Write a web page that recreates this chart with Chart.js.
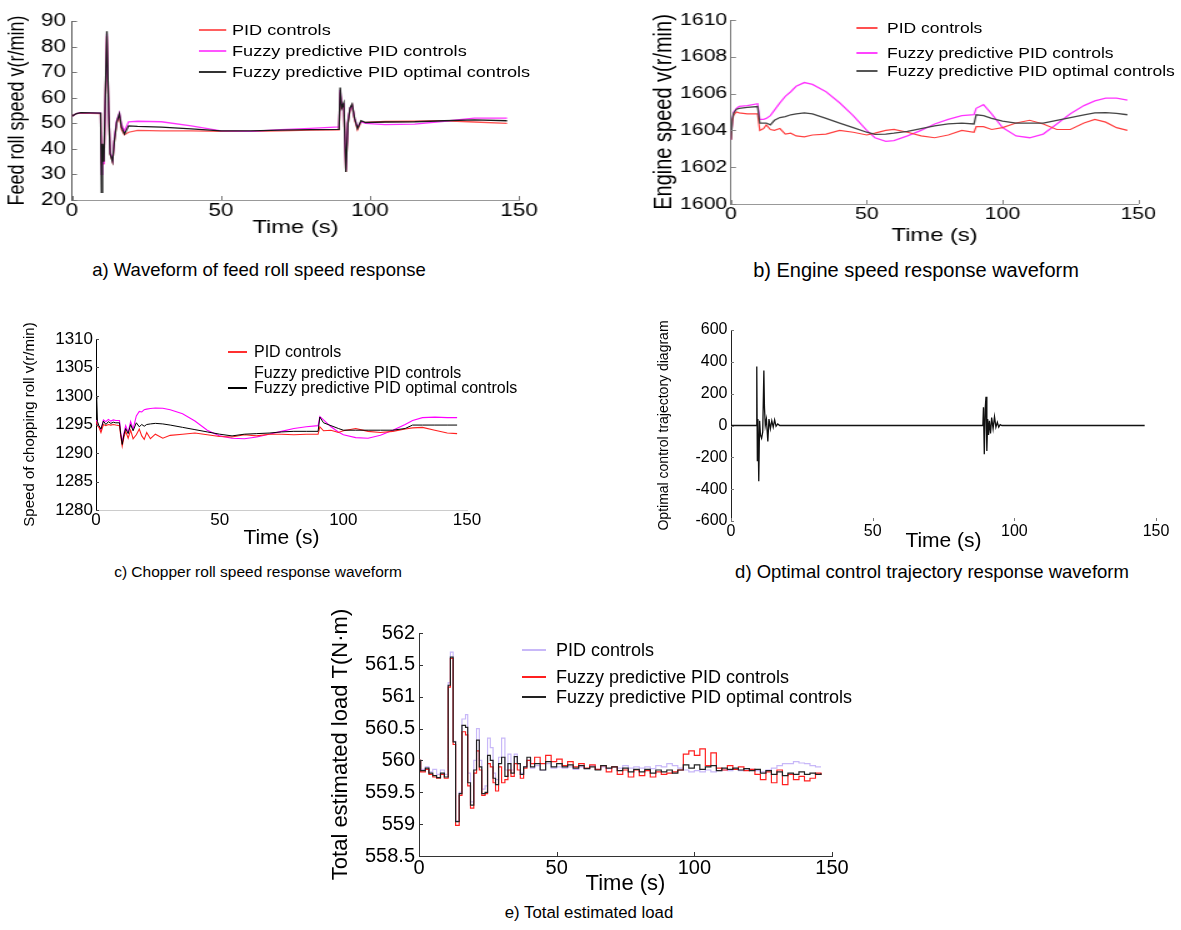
<!DOCTYPE html>
<html>
<head>
<meta charset="utf-8">
<script src="https://cdn.jsdelivr.net/npm/chart.js@4.4.1/dist/chart.umd.min.js"></script>
<style>
  body { margin:0; background:#fff; width:1181px; height:930px; position:relative; overflow:hidden;
         font-family: Arial, "Liberation Sans", sans-serif; }
  .panel { position:absolute; transform-origin:0 0; }
  .panel canvas { position:absolute; left:0; top:0; }
  .lg-line { position:absolute; height:2px; transform:translateY(-1px); }
  .lg-text { position:absolute; white-space:nowrap; color:#000; transform:translateY(-50%); line-height:1; }
  .caption { position:absolute; color:#000; white-space:nowrap; transform:translate(-50%,-50%); }
</style>
</head>
<body>
<div class="caption" style="left:259px;top:270px;font-size:18.5px">a) Waveform of feed roll speed response</div>
<div class="caption" style="left:916px;top:270px;font-size:20px">b) Engine speed response waveform</div>
<div class="caption" style="left:258px;top:572px;font-size:15.5px">c) Chopper roll speed response waveform</div>
<div class="caption" style="left:932px;top:572px;font-size:18.5px">d) Optimal control trajectory response waveform</div>
<div class="caption" style="left:589px;top:913px;font-size:16.8px">e) Total estimated load</div>
<script>
// ---- data ----
const seriesNames = ['PID controls', 'Fuzzy predictive PID controls', 'Fuzzy predictive PID optimal controls'];
const timeTicks = [0, 50, 100, 150];

// a) feed roll speed
const feedTicks = [20, 30, 40, 50, 60, 70, 80, 90];
const timeA = [0, 1.5, 3, 9.6, 9.9, 10.2, 10.7, 11.2, 11.7, 12.3, 12.8, 13.6, 14.2, 15.0, 15.9, 16.6, 17.6, 19, 22, 30,
  40, 50, 60, 70, 80, 89.6, 90.0, 90.5, 91.2, 91.9, 92.6, 93.3, 94.0, 94.8, 95.8, 97, 98.5, 105, 115, 125, 135, 146];
const feedPID = [52.8, 53.8, 54.0, 53.8, 34, 41, 34, 60, 84, 54, 38, 35, 43, 50, 53, 47.5, 45.5, 46.5, 47.2, 47.0,
  47.0, 46.8, 46.8, 47.0, 47.3, 47.4, 62, 56, 57, 31, 50, 55.5, 57, 51.5, 47.5, 50.5, 50.3, 50.7, 50.8, 51.0, 50.5, 50.0];
const feedFuzzy = [52.8, 53.8, 54.2, 54.0, 30, 40, 34, 60, 85, 55, 38.5, 35.5, 44, 51, 54, 49.5, 47, 50.6, 50.8, 50.6,
  49.0, 47.0, 46.8, 47.5, 48.0, 48.6, 63, 57, 57.5, 31.5, 51, 56, 57, 52, 48.5, 50.5, 50.0, 49.5, 49.7, 50.8, 52.0, 52.0];
const feedOpt = [52.8, 53.8, 54.2, 54.0, 23, 42, 35, 62, 86, 55, 38, 35, 43, 50.5, 53.7, 48.5, 45.8, 49, 48.8, 48.5,
  47.8, 47.0, 47.0, 47.3, 47.5, 47.6, 64, 56, 58, 31, 50, 56, 57.5, 52, 48, 51, 50.3, 50.5, 50.6, 51.0, 51.3, 51.0];

// b) engine speed
const engineTicks = [1600, 1602, 1604, 1606, 1608, 1610];
const timeB = [0, 0.5, 1, 2, 3, 6, 9.8, 10.6, 12, 13, 14.5, 16, 18, 20, 22, 24, 27, 30, 35, 40, 45, 50, 53, 57, 60,
  65, 70, 75, 80, 85, 89.5, 90.3, 93, 96, 100, 105, 110, 115, 120, 125, 130, 134, 138, 142, 146];
const enginePID = [1603.5, 1604.5, 1604.85, 1605.0, 1604.95, 1604.9, 1604.9, 1604.0, 1604.1, 1604.3, 1604.05, 1604.0,
  1604.1, 1603.8, 1603.85, 1603.7, 1603.65, 1603.75, 1603.8, 1604.0, 1603.9, 1603.75, 1603.85, 1604.0, 1604.05,
  1603.9, 1603.7, 1603.6, 1603.75, 1604.0, 1603.9, 1604.2, 1604.2, 1604.05, 1604.15, 1604.4, 1604.55, 1604.35,
  1604.05, 1604.05, 1604.4, 1604.6, 1604.45, 1604.15, 1604.0];
const engineFuzzy = [1603.5, 1604.6, 1605.0, 1605.2, 1605.3, 1605.35, 1605.45, 1604.6, 1604.6, 1604.65, 1604.8, 1605.1,
  1605.5, 1605.85, 1606.1, 1606.4, 1606.6, 1606.5, 1606.1, 1605.5, 1604.8, 1604.0, 1603.6, 1603.4, 1603.45,
  1603.7, 1604.0, 1604.35, 1604.6, 1604.8, 1604.85, 1605.2, 1605.4, 1604.9, 1604.15, 1603.7, 1603.6, 1603.8,
  1604.35, 1604.9, 1605.35, 1605.6, 1605.75, 1605.75, 1605.65];
const engineOpt = [1603.5, 1604.6, 1604.95, 1605.15, 1605.2, 1605.25, 1605.3, 1604.4, 1604.4, 1604.4, 1604.3, 1604.55,
  1604.7, 1604.75, 1604.85, 1604.9, 1604.95, 1604.9, 1604.65, 1604.4, 1604.15, 1603.9, 1603.78, 1603.8, 1603.85,
  1603.95, 1604.1, 1604.25, 1604.35, 1604.4, 1604.35, 1604.85, 1604.8, 1604.65, 1604.5, 1604.4, 1604.4, 1604.4,
  1604.55, 1604.7, 1604.85, 1604.95, 1604.97, 1604.93, 1604.85];

// c) chopping roll speed
const chopTicks = [1280, 1285, 1290, 1295, 1300, 1305, 1310];
const timeC = [0, 0.3, 0.6, 1.2, 2, 3, 4, 5, 6, 7, 8, 9.5, 10, 10.6, 11.3, 12, 13, 14, 15, 16.3, 17.5, 18.5, 19.5, 20.5,
  22, 24, 27, 30, 35, 40, 45, 50, 55, 60, 65, 70, 75, 80, 85, 89.8, 90.5, 92, 95, 98, 100, 105, 110, 115, 120, 125,
  128, 132, 137, 142, 146];
const chopPID = [1295.5, 1295.3, 1294.8, 1294.5, 1293.6, 1295.0, 1294.8, 1295.0, 1294.9, 1295.0, 1294.9, 1294.8,
  1293.0, 1291.2, 1292.8, 1293.8, 1292.6, 1294.0, 1292.5, 1293.2, 1294.2, 1293.0, 1292.4, 1293.6, 1292.5, 1293.3,
  1292.6, 1293.1, 1293.3, 1293.5, 1293.2, 1292.9, 1292.8, 1293.2, 1293.0, 1293.3, 1293.3, 1293.2, 1293.3, 1293.3,
  1294.6, 1293.9, 1294.0, 1293.6, 1293.9, 1294.3, 1293.8, 1293.6, 1293.8, 1294.2, 1294.4, 1294.5, 1294.0, 1293.5, 1293.4];
const chopFuzzy = [1295.8, 1295.6, 1295.0, 1294.6, 1294.0, 1295.8, 1295.5, 1295.9, 1295.6, 1295.8, 1295.7, 1295.7,
  1293.5, 1292.0, 1293.5, 1294.8, 1293.6, 1295.5, 1294.2, 1296.5, 1297.3, 1297.2, 1297.6, 1297.7, 1297.8, 1297.9,
  1297.85, 1297.6, 1296.9, 1295.6, 1294.0, 1293.0, 1292.6, 1292.5, 1292.8, 1293.3, 1293.8, 1294.3, 1294.6, 1294.8,
  1296.4, 1295.8, 1294.6, 1293.7, 1293.2, 1292.7, 1292.6, 1293.1, 1294.0, 1295.0, 1295.7, 1296.2, 1296.3, 1296.2, 1296.2];
const chopOpt = [1300.0, 1299.5, 1295.5, 1294.8, 1294.2, 1295.6, 1295.0, 1295.5, 1295.2, 1295.4, 1295.3, 1295.3,
  1293.3, 1291.5, 1293.2, 1294.3, 1293.4, 1295.0, 1293.9, 1295.3, 1294.6, 1295.0, 1294.7, 1295.0, 1295.1, 1295.2,
  1295.1, 1294.9, 1294.5, 1294.1, 1293.7, 1293.3, 1293.0, 1293.3, 1293.4, 1293.5, 1293.7, 1293.8, 1293.8, 1293.8,
  1296.3, 1295.3, 1294.8, 1294.3, 1294.0, 1294.0, 1294.0, 1294.0, 1294.0, 1294.3, 1294.9, 1294.9, 1294.9, 1294.9, 1294.9];

// d) optimal control trajectory
const trajTicks = [-600, -400, -200, 0, 200, 400, 600];
const timeD = [0, 8.9, 9.1, 9.3, 9.5, 9.8, 10.1, 10.4, 10.8, 11.2, 11.6, 11.8, 12.1, 12.5, 13.0, 13.4, 13.9, 14.4, 14.9,
  15.4, 15.9, 16.5, 17.2, 18.5, 88.9, 89.1, 89.4, 89.7, 90.0, 90.3, 90.6, 90.9, 91.2, 91.6, 92.0, 92.5, 93.0, 93.5,
  94.0, 94.5, 95.0, 95.6, 96.3, 97.2, 146];
const trajOpt = [0, 0, 370, -220, 40, -350, 30, -60, -80, -40, 345, 120, 0, 40, -100, 40, -20, 30, -10, 35, -5, 10, 0, 0,
  0, 115, -180, 100, 180, -160, 40, -60, 30, -50, 50, -20, 55, -10, 20, -10, 5, 0, 0, 0, 0];

// e) total estimated load
const loadTicks = [558.5, 559, 559.5, 560, 560.5, 561, 561.5, 562];
const timeE = [0, 0.6, 2.3, 3.6, 5.0, 6.4, 7.8, 9.2, 10.6, 11.4, 12.4, 13.3, 14.6, 15.6, 16.9, 17.7, 18.7, 19.9, 20.9,
  21.9, 22.8, 24.0, 24.9, 25.9, 26.9, 27.8, 28.9, 30.0, 31.2, 32.3, 33.4, 34.6, 35.7, 36.8, 38.0, 39.2, 40.5,
  42, 44, 46, 48, 50, 52, 54, 56, 58, 60, 62, 64, 66, 68, 70, 72, 74, 76, 78, 80, 82, 84, 86, 88, 90, 92, 94, 96, 98,
  100, 102, 104, 106, 108, 110, 112, 114, 116, 118, 120, 122, 124, 126, 128, 130, 132, 134, 136, 138, 140, 142, 144, 146];
const loadPID = [560.0, 559.86, 559.9, 559.82, 559.86, 559.78, 559.85, 559.78, 561.22, 561.7, 560.3, 559.05, 559.5,
  560.65, 560.72, 559.8, 559.35, 560.0, 560.5, 560.0, 559.55, 559.6, 560.35, 560.2, 559.8, 559.7, 560.05,
  560.35, 559.85, 560.1, 559.85, 560.1, 559.95, 559.8, 559.9, 560.0, 559.88,
  559.92, 559.85, 559.95, 559.88, 559.9,
  559.88, 559.9, 559.86, 559.9, 559.87, 559.92, 559.86, 559.9, 559.87, 559.9, 559.88, 559.92, 559.88, 559.9, 559.88, 559.9,
  559.87, 559.92, 559.9, 559.95, 559.92, 559.88, 559.85, 559.82, 559.84, 559.82, 559.85, 559.82, 559.84, 559.85, 559.84,
  559.86, 559.84, 559.85, 559.86, 559.84, 559.82, 559.85, 559.88, 559.92, 559.95, 559.95, 559.98, 559.96, 559.95, 559.92,
  559.9, 559.9];
const loadFuzzy = [560.0, 559.82, 559.86, 559.78, 559.74, 559.72, 559.78, 559.72, 561.15, 561.6, 560.25, 558.98, 559.45,
  560.45, 560.4, 559.6, 559.25, 559.8, 560.15, 559.85, 559.45, 559.48, 559.95, 559.9, 559.65, 559.52, 559.9,
  559.65, 559.7, 559.85, 559.75, 559.95, 559.85, 559.72, 559.88, 560.0, 559.95,
  560.05, 559.95, 560.08, 559.98, 560.02,
  559.92, 559.98, 559.9, 559.95, 559.88, 559.93, 559.86, 559.92, 559.82, 559.9, 559.78, 559.85, 559.74, 559.85, 559.76, 559.84,
  559.74, 559.82, 559.78, 559.8, 559.82, 559.85, 560.1, 560.15, 560.08, 560.18, 559.92, 560.12, 559.88, 559.85, 559.92,
  559.86, 559.9, 559.84, 559.86, 559.78, 559.7, 559.82, 559.65, 559.85, 559.62, 559.78, 559.7, 559.75, 559.68, 559.72,
  559.8, 559.77];
const loadOpt = [560.0, 559.84, 559.88, 559.8, 559.76, 559.73, 559.8, 559.74, 561.18, 561.62, 560.29, 559.04, 559.48,
  560.55, 560.52, 559.65, 559.3, 559.85, 560.32, 559.9, 559.48, 559.5, 560.08, 560.0, 559.72, 559.62, 559.95,
  560.05, 559.75, 559.95, 559.8, 560.06, 559.95, 559.78, 559.9, 560.05, 559.9,
  559.95, 559.85, 559.98, 559.9, 559.95,
  559.9, 559.93, 559.88, 559.92, 559.87, 559.9, 559.85, 559.92, 559.88, 559.9, 559.84, 559.88, 559.82, 559.86, 559.82, 559.86,
  559.8, 559.85, 559.82, 559.85, 559.8, 559.85, 559.93, 559.88, 559.93, 559.86, 559.9, 559.92, 559.84, 559.88, 559.86,
  559.88, 559.85, 559.87, 559.84, 559.86, 559.8, 559.84, 559.78, 559.82, 559.76, 559.8, 559.78, 559.82, 559.78, 559.8,
  559.78, 559.8];

// ---- small plugin: matlab style ticks pointing into the plot ----
const inTicks = {
  id: 'inTicks',
  afterDraw(chart, args, o) {
    if (!o || !o.len) return;
    const ctx = chart.ctx, a = chart.chartArea, sx = chart.scales.x, sy = chart.scales.y;
    ctx.save();
    ctx.strokeStyle = o.color || '#000';
    ctx.lineWidth = 1;
    ctx.beginPath();
    if (o.x) sx.ticks.forEach(t => {
      const px = Math.round(sx.getPixelForValue(t.value)) + 0.5;
      ctx.moveTo(px, a.bottom); ctx.lineTo(px, a.bottom - o.len);
    });
    if (o.y) sy.ticks.forEach(t => {
      const py = Math.round(sy.getPixelForValue(t.value)) + 0.5;
      ctx.moveTo(a.left, py); ctx.lineTo(a.left + o.len, py);
    });
    ctx.stroke();
    ctx.restore();
  }
};
Chart.register(inTicks);

const FONT = 'Arial, "Liberation Sans", sans-serif';

function pts(t, v) { return t.map((x, i) => ({ x: x, y: v[i] })); }

function makePanel(p) {
  const s = p.stretch || 1;
  const wrap = document.createElement('div');
  wrap.className = 'panel';
  const cw = Math.round(p.width / s);
  wrap.style.left = p.left + 'px';
  wrap.style.top = p.top + 'px';
  wrap.style.width = cw + 'px';
  wrap.style.height = p.height + 'px';
  wrap.style.transform = 'scaleX(' + s + ')';
  document.body.appendChild(wrap);

  const cv = document.createElement('canvas');
  cv.width = cw;
  cv.height = p.height;
  wrap.appendChild(cv);

  const yW = (p.plot.l - p.left) / s;
  const xH = p.top + p.height - p.plot.b;
  const padR = (p.left + p.width - p.plot.r) / s;
  const padT = p.plot.t - p.top;

  new Chart(cv, {
    type: 'line',
    data: { datasets: p.datasets },
    options: {
      responsive: false,
      animation: false,
      devicePixelRatio: 1,
      layout: { padding: { top: padT, right: padR, left: 0, bottom: 0 } },
      elements: { point: { radius: 0 }, line: { tension: 0, fill: false } },
      plugins: { legend: { display: false }, tooltip: { enabled: false }, inTicks: p.inTicks },
      scales: {
        x: {
          type: 'linear', min: 0, max: 150,
          afterBuildTicks: sc => { sc.ticks = timeTicks.map(v => ({ value: v })); },
          afterFit: sc => { sc.height = xH; },
          grid: { display: true, drawOnChartArea: false, drawTicks: false },
          border: { display: p.xBorder !== null, color: p.xBorder || '#999', width: 1 },
          ticks: { font: { family: FONT, size: p.tickSize }, color: '#000', padding: p.xTickPad || 0,
                   maxRotation: 0, autoSkip: false, callback: v => String(v) },
          title: { display: true, text: 'Time (s)', color: '#000', font: { family: FONT, size: p.xTitleSize },
                   padding: { top: 0, bottom: p.xTitlePad } }
        },
        y: {
          type: 'linear', min: p.yTicks[0], max: p.yTicks[p.yTicks.length - 1],
          afterBuildTicks: sc => { sc.ticks = p.yTicks.map(v => ({ value: v })); },
          afterFit: sc => { sc.width = yW; },
          grid: { display: true, drawOnChartArea: false, drawTicks: false },
          border: { display: true, color: p.yBorder || '#555', width: 1 },
          ticks: { font: { family: FONT, size: p.tickSize }, color: '#000', padding: p.yTickPad,
                   autoSkip: false, callback: v => String(v) },
          title: { display: true, text: p.yTitle, color: '#000', font: { family: FONT, size: p.yTitleSize },
                   padding: { top: p.yTitlePad, bottom: 0 } }
        }
      }
    }
  });

  // legend drawn as html inside the (stretched) panel
  if (p.legend) {
    const lg = p.legend;
    lg.rows.forEach((y, i) => {
      const cy = y - p.top;
      if (lg.colors[i]) {
        const ln = document.createElement('div');
        ln.className = 'lg-line';
        ln.style.left = ((lg.x1 - p.left) / s) + 'px';
        ln.style.width = ((lg.x2 - lg.x1) / s) + 'px';
        ln.style.top = cy + 'px';
        ln.style.background = lg.colors[i];
        wrap.appendChild(ln);
      }
      const tx = document.createElement('div');
      tx.className = 'lg-text';
      tx.style.left = ((lg.tx - p.left) / s) + 'px';
      tx.style.top = cy + 'px';
      tx.style.fontSize = lg.size + 'px';
      tx.textContent = lg.names[i];
      wrap.appendChild(tx);
    });
  }
}

// a) feed roll
makePanel({
  left: 0, top: 0, width: 560, height: 245, stretch: 1.25,
  plot: { l: 72, r: 519, t: 21, b: 200 },
  yTicks: feedTicks, yTitle: 'Feed roll speed v(r/min)',
  tickSize: 18, xTitleSize: 19, yTitleSize: 18, yTitlePad: 2.8, yTickPad: 4.8, xTickPad: 0, xTitlePad: 5.6,
  yBorder: '#555', xBorder: '#999', inTicks: { len: 4, color: '#777', x: true, y: true },
  datasets: [
    { data: pts(timeA, feedOpt), borderColor: '#1a1a1a', borderWidth: 1.3 },
    { data: pts(timeA, feedFuzzy), borderColor: '#ff33ff', borderWidth: 1.3 },
    { data: pts(timeA, feedPID), borderColor: '#ff5050', borderWidth: 1.3 }
  ],
  legend: { rows: [30, 51, 72], x1: 199, x2: 226, tx: 232, size: 14.5, names: seriesNames,
            colors: ['#ff6060', '#ff55ff', '#333'] }
});

// b) engine speed
makePanel({
  left: 640, top: 0, width: 541, height: 250, stretch: 1.25,
  plot: { l: 731, r: 1138, t: 20, b: 204 },
  yTicks: engineTicks, yTitle: 'Engine speed v(r/min)',
  tickSize: 17, xTitleSize: 19, yTitleSize: 20, yTitlePad: 7.2, yTickPad: 3, xTickPad: 0, xTitlePad: 2.6,
  yBorder: '#777', xBorder: '#999', inTicks: { len: 4, color: '#888', x: true, y: true },
  datasets: [
    { data: pts(timeB, engineOpt), borderColor: '#444', borderWidth: 1.3 },
    { data: pts(timeB, enginePID), borderColor: '#ff4040', borderWidth: 1.2 },
    { data: pts(timeB, engineFuzzy), borderColor: '#ff33ff', borderWidth: 1.3 }
  ],
  legend: { rows: [28, 53, 71], x1: 856, x2: 878, tx: 887, size: 14, names: seriesNames,
            colors: ['#ff5050', '#ff44ff', '#555'] }
});

// c) chopping roll
makePanel({
  left: 0, top: 310, width: 560, height: 242, stretch: 1,
  plot: { l: 96, r: 467, t: 339, b: 510 },
  yTicks: chopTicks, yTitle: 'Speed of chopping roll v(r/min)',
  tickSize: 17, xTitleSize: 21, yTitleSize: 15, yTitlePad: 20.5, yTickPad: 3, xTickPad: 0, xTitlePad: 1.4,
  yBorder: '#000', xBorder: '#ccc', inTicks: { len: 3, color: '#444', x: false, y: true },
  datasets: [
    { data: pts(timeC, chopOpt), borderColor: '#000', borderWidth: 1 },
    { data: pts(timeC, chopPID), borderColor: '#ff2020', borderWidth: 1.1 },
    { data: pts(timeC, chopFuzzy), borderColor: '#ff00ff', borderWidth: 1.1 }
  ],
  legend: { rows: [352, 373, 388], x1: 228, x2: 247, tx: 254, size: 16, names: seriesNames,
            colors: ['#ff3030', null, '#000'] }
});

// d) optimal control trajectory
makePanel({
  left: 620, top: 310, width: 561, height: 245, stretch: 1,
  plot: { l: 731, r: 1156, t: 330, b: 521 },
  yTicks: trajTicks, yTitle: 'Optimal control trajectory diagram',
  tickSize: 16, xTitleSize: 21, yTitleSize: 14, yTitlePad: 35.6, yTickPad: 3.5, xTickPad: 1, xTitlePad: 1.5,
  yBorder: '#222', xBorder: null, inTicks: { len: 3, color: '#777', x: true, y: true },
  datasets: [
    { data: pts(timeD, trajOpt), borderColor: '#111', borderWidth: 1.3 }
  ]
});

// e) total estimated load
makePanel({
  left: 320, top: 610, width: 560, height: 288, stretch: 1,
  plot: { l: 419, r: 832, t: 633, b: 856 },
  yTicks: loadTicks, yTitle: 'Total estimated load T(N\u00b7m)',
  tickSize: 20, xTitleSize: 22, yTitleSize: 22, yTitlePad: 7.3, yTickPad: 4, xTickPad: 0, xTitlePad: 0.8,
  yBorder: '#333', xBorder: '#333', inTicks: { len: 4, color: '#333', x: true, y: true },
  datasets: [
    { data: pts(timeE, loadOpt), borderColor: '#222', borderWidth: 1.2, stepped: true },
    { data: pts(timeE, loadFuzzy), borderColor: '#ff2020', borderWidth: 1.2, stepped: true },
    { data: pts(timeE, loadPID), borderColor: '#c8b8f8', borderWidth: 1.2, stepped: true }
  ],
  legend: { rows: [650, 677, 697], x1: 522, x2: 546, tx: 556, size: 18, names: seriesNames,
            colors: ['#c8b8f8', '#ff2020', '#222'] }
});
</script>
</body>
</html>
